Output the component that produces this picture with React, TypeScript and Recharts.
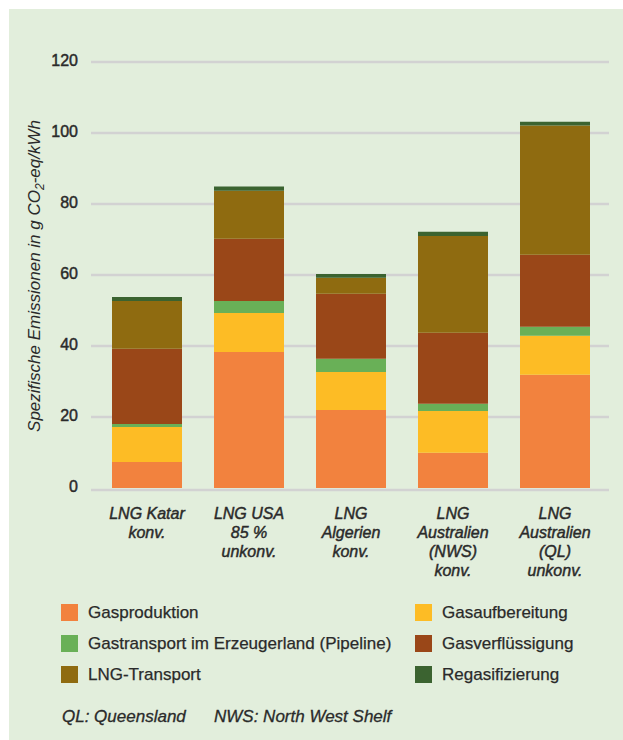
import { BarChart, Bar, XAxis, YAxis, CartesianGrid } from 'recharts'

const FONT = '"Liberation Sans", Arial, Helvetica, sans-serif'
const TEXT = '#2a2a2a'

// Kategorien (Zeilenumbruch per \n)
const categories = [
  'LNG Katar\nkonv.',
  'LNG USA\n85 %\nunkonv.',
  'LNG\nAlgerien\nkonv.',
  'LNG\nAustralien\n(NWS)\nkonv.',
  'LNG\nAustralien\n(QL)\nunkonv.',
]

// Emissionen je Prozessschritt in g CO2-eq/kWh
const gasproduktion = [7.3, 38.3, 22.0, 9.9, 31.9]
const gasaufbereitung = [9.9, 11.0, 10.7, 11.8, 11.0]
const pipeline = [0.8, 3.4, 3.7, 2.0, 2.5]
const verfluessigung = [21.2, 17.5, 18.3, 20.0, 20.3]
const lngTransport = [13.5, 13.5, 4.5, 27.3, 36.4]
const regasifizierung = [1.1, 1.2, 1.1, 1.2, 1.1]

const yTicks = [0, 20, 40, 60, 80, 100, 120]

const series = [
  { key: 'gasproduktion', name: 'Gasproduktion', color: '#F2823E', values: gasproduktion },
  { key: 'gasaufbereitung', name: 'Gasaufbereitung', color: '#FDBC25', values: gasaufbereitung },
  { key: 'pipeline', name: 'Gastransport im Erzeugerland (Pipeline)', color: '#69B057', values: pipeline },
  { key: 'verfluessigung', name: 'Gasverflüssigung', color: '#9A4718', values: verfluessigung },
  { key: 'lngTransport', name: 'LNG-Transport', color: '#8F6B10', values: lngTransport },
  { key: 'regasifizierung', name: 'Regasifizierung', color: '#3B6330', values: regasifizierung },
]

const data = categories.map((name, i) => {
  const row: Record<string, string | number> = { name }
  series.forEach(s => { row[s.key] = s.values[i] })
  return row
})

// halbfette Optik: normale Schrift mit leichter Kontur
const medium = { stroke: TEXT, strokeWidth: 0.45 }

const XTick = ({ x, y, payload }: any) => {
  const lines = String(payload.value).split('\n')
  return (
    <text x={x} y={y} textAnchor="middle" fontFamily={FONT} fontStyle="italic" fontSize={16} fill={TEXT} {...medium}>
      {lines.map((line, i) => (
        <tspan key={i} x={x} dy={i === 0 ? 23 : 19}>{line}</tspan>
      ))}
    </text>
  )
}

const YTitle = () => (
  <text
    x={40}
    y={276}
    transform="rotate(-90, 40, 276)"
    textAnchor="middle"
    fontFamily={FONT}
    fontStyle="italic"
    fontSize={17}
    fill={TEXT}
  >
    Spezifische Emissionen in g CO<tspan dy={4} fontSize={12}>2</tspan><tspan dy={-4}>-eq/kWh</tspan>
  </text>
)

export default function App() {
  return (
    <div style={{ position: 'relative', width: 623, height: 740, background: '#fff', fontFamily: FONT, overflow: 'hidden' }}>
      <style>{'body{margin:0}'}</style>
      <div style={{ position: 'absolute', left: 9, top: 9, right: 0, bottom: 0, background: '#E2EEDC' }} />
      <div style={{ position: 'absolute', left: 0, top: 0 }}>
        <BarChart width={623} height={600} data={data} margin={{ top: 62, right: 14, bottom: 12, left: 0 }}>
          <CartesianGrid vertical={false} horizontalValues={[20, 40, 60, 80, 100, 120]} stroke="#D2D2D2" strokeWidth={2.5} />
          <XAxis
            dataKey="name"
            interval={0}
            height={100}
            padding={{ left: 5, right: 3 }}
            tickLine={false}
            axisLine={{ stroke: '#D2D2D2', strokeWidth: 2.5, transform: 'translate(0,2)' } as any}
            tick={<XTick />}
          />
          <YAxis
            width={91}
            domain={[0, 120]}
            ticks={yTicks}
            interval={0}
            axisLine={false}
            tickLine={false}
            tickMargin={7}
            tick={{ fontSize: 16, fill: TEXT, fontFamily: FONT, dy: -2, ...medium }}
            label={{ content: <YTitle /> } as any}
          />
          {series.map(s => (
            <Bar key={s.key} dataKey={s.key} name={s.name} stackId="a" fill={s.color} barSize={70} isAnimationActive={false} />
          ))}
        </BarChart>
      </div>
      <div
        style={{
          position: 'absolute',
          left: 61,
          top: 604,
          display: 'grid',
          gridTemplateColumns: '354px 200px',
          rowGap: 14,
          fontSize: 17,
          color: TEXT,
          WebkitTextStroke: '0.25px #2a2a2a',
        }}
      >
        {series.map(s => (
          <div key={s.key} style={{ display: 'flex', alignItems: 'center', height: 17, whiteSpace: 'nowrap' }}>
            <span style={{ width: 17, height: 17, background: s.color, marginRight: 10, flexShrink: 0 }} />
            {s.name}
          </div>
        ))}
      </div>
      <div
        style={{
          position: 'absolute',
          left: 62,
          top: 707,
          fontSize: 17,
          fontStyle: 'italic',
          color: TEXT,
          whiteSpace: 'nowrap',
          WebkitTextStroke: '0.3px #2a2a2a',
        }}
      >
        <span>QL: Queensland</span>
        <span style={{ position: 'absolute', left: 152 }}>NWS: North West Shelf</span>
      </div>
    </div>
  )
}
